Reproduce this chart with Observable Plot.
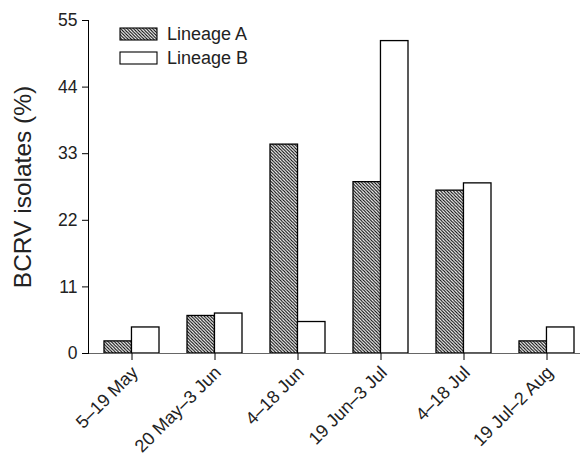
<!DOCTYPE html>
<html>
<head>
<meta charset="utf-8">
<script src="https://cdn.jsdelivr.net/npm/d3@7"></script>
<script src="https://cdn.jsdelivr.net/npm/@observablehq/plot@0.6"></script>
<style>
  html, body { margin: 0; padding: 0; background: white; }
  #wrap { position: relative; width: 580px; height: 456px; overflow: hidden; font-family: "Liberation Sans", Arial, sans-serif; color: #111; }
  #ylabel { position: absolute; left: 23px; top: 187px; transform: translate(-50%, -50%) rotate(-90deg); white-space: nowrap; font-size: 24.5px; color: #222; }
  #legend { position: absolute; left: 119px; top: 22px; font-size: 18px; color: #222; }
  .item { display: flex; align-items: center; height: 24px; }
  .item svg { display: block; margin-right: 8px; }
  #wrap svg g[aria-label="x-axis tick label"] { font-size: 18px !important; }
  #wrap svg g[aria-label="x-axis tick label"] text { font-size: 18px !important; }
  #wrap svg g[aria-label="y-axis tick label"] { font-size: 17.5px !important; }
  #wrap svg g[aria-label="y-axis tick label"] text { font-size: 17.5px !important; }
  #wrap svg g[aria-label$="tick label"] text { fill: #222; }
</style>
</head>
<body>
<div id="wrap"></div>
<script>
const categories = ["5–19 May", "20 May–3 Jun", "4–18 Jun", "19 Jun–3 Jul", "4–18 Jul", "19 Jul–2 Aug"];
const lineageA = [2.0, 6.2, 34.5, 28.3, 26.9, 2.0];
const lineageB = [4.3, 6.6, 5.2, 51.6, 28.1, 4.3];
const seriesNames = ["Lineage A", "Lineage B"];
const yTicks = [0, 11, 22, 33, 44, 55];
const yLabel = "BCRV isolates (%)";

const rows = categories.map((c, i) => ({category: c, a: lineageA[i], b: lineageB[i]}));

const xRange = [88, 590], padIn = 0.34, padOut = 0.186;
const step = (xRange[1] - xRange[0]) / (categories.length - padIn + 2 * padOut);
const half = step * (1 - padIn) / 2;

const plot = Plot.plot({
  width: 580, height: 456,
  marginLeft: 88, marginRight: 0, marginTop: 20, marginBottom: 103,
  style: {fontFamily: "'Liberation Sans', Arial, sans-serif", fontSize: "16px", background: "white", color: "black", overflow: "visible"},
  x: {domain: categories, range: xRange, paddingInner: padIn, paddingOuter: padOut, label: null},
  y: {domain: [0, 55], ticks: yTicks, label: null},
  marks: [
    Plot.barY(rows, {x: "category", y: "a", fill: "url(#hatchA)", stroke: "black", strokeWidth: 1.3, insetRight: half}),
    Plot.barY(rows, {x: "category", y: "b", fill: "white", stroke: "black", strokeWidth: 1.3, insetLeft: half}),
    Plot.ruleY([0], {stroke: "#666", strokeWidth: 1.2}),
    Plot.frame({anchor: "left", stroke: "black"}),
    Plot.axisY({ticks: yTicks, tickSize: 6, tickPadding: 5, fontSize: 17.5, label: null}),
    Plot.axisX({tickRotate: -45, tickSize: 7, tickPadding: 4, fontSize: 18, label: null}),
  ]
});

// shift the rotated x tick labels slightly down-right to match the reference
d3.select(plot).selectAll('g[aria-label="x-axis tick label"]').attr("transform", function() {
  const t = this.getAttribute("transform") || "";
  return t + " translate(3,5)";
});

function addPattern(svgSel) {
  const w = 3.2;
  const pat = svgSel.insert("defs", ":first-child").append("pattern")
    .attr("id", "hatchA").attr("patternUnits", "userSpaceOnUse")
    .attr("width", w).attr("height", w);
  pat.append("rect").attr("width", w).attr("height", w).attr("fill", "white");
  pat.append("path")
    .attr("d", `M0,0L${w},${w}M-1,${w-1}L1,${w+1}M${w-1},-1L${w+1},1`)
    .attr("stroke", "black").attr("stroke-width", 1);
}
addPattern(d3.select(plot));

const wrap = document.getElementById("wrap");
wrap.appendChild(plot);

const yl = document.createElement("div");
yl.id = "ylabel"; yl.textContent = yLabel;
wrap.appendChild(yl);

const legend = d3.select(wrap).append("div").attr("id", "legend");
seriesNames.forEach((name, i) => {
  const item = legend.append("div").attr("class", "item");
  const s = item.append("svg").attr("width", 40).attr("height", 14);
  if (i === 0) addPattern(s);
  s.append("rect").attr("x", 1).attr("y", 1).attr("width", 37).attr("height", 12)
    .attr("fill", i === 0 ? "url(#hatchA)" : "white").attr("stroke", "black").attr("stroke-width", 1.1);
  item.append("span").text(name);
});
</script>
</body>
</html>
